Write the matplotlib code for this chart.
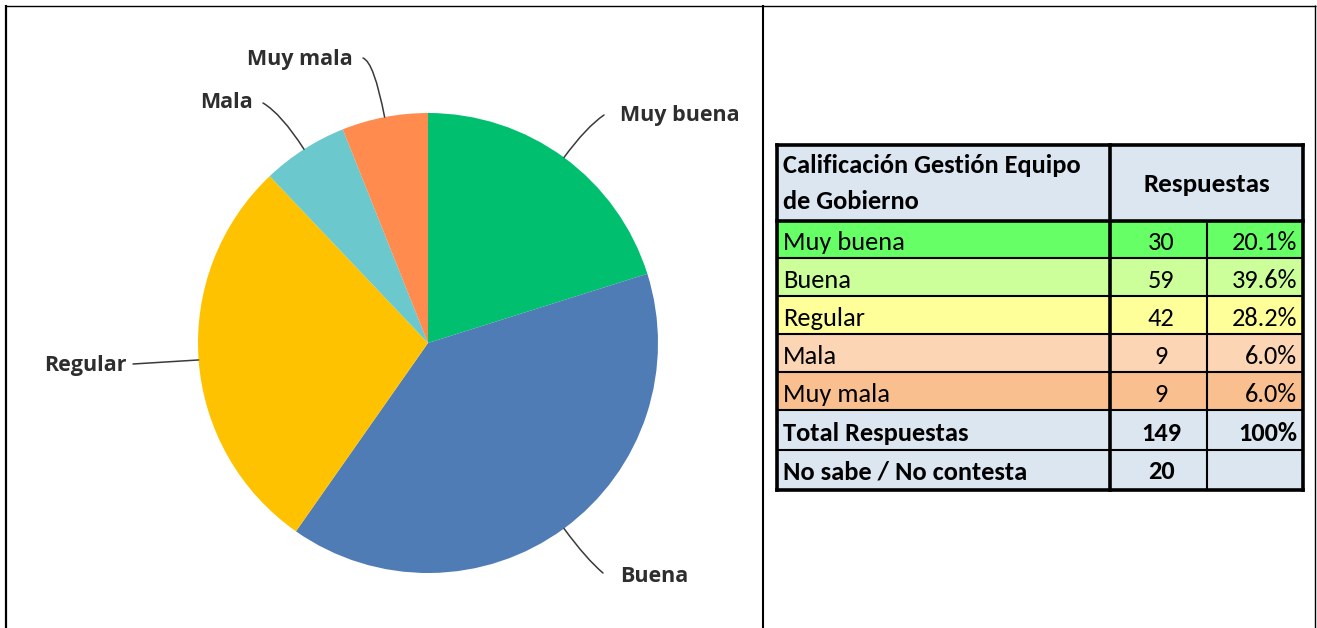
import matplotlib
matplotlib.use('Agg')
import matplotlib.pyplot as plt
from matplotlib.patches import Rectangle, PathPatch
from matplotlib.path import Path
from matplotlib import font_manager
import numpy as np

# ---------------- data ----------------
categories = ['Muy buena', 'Buena', 'Regular', 'Mala', 'Muy mala']
counts = [30, 59, 42, 9, 9]
percents = ['20.1%', '39.6%', '28.2%', '6.0%', '6.0%']
pie_colors = ['#00BF6F', '#507CB6', '#FFC200', '#6BC8CD', '#FF8B4F']
row_colors = ['#66FF66', '#CCFF99', '#FFFF99', '#FCD5B4', '#FABF8F']
header_title = ['Calificación Gestión Equipo', 'de Gobierno']
header_resp = 'Respuestas'
total_label = 'Total Respuestas'
total_count = '149'
total_pct = '100%'
nsnc_label = 'No sabe / No contesta'
nsnc_count = '20'

# ---------------- fonts ----------------
avail = {f.name for f in font_manager.fontManager.ttflist}
if 'Liberation Sans Narrow' in avail:
    table_font, tfs, tfs_b = 'Liberation Sans Narrow', 18.5, 18.5
elif 'Carlito' in avail:
    table_font, tfs, tfs_b = 'Carlito', 19, 19
else:
    table_font, tfs, tfs_b = 'Lato', 17, 16.5
label_font = 'Open Sans'

W, H = 1317, 628
fig = plt.figure(figsize=(W / 100, H / 100), dpi=100)
ax = fig.add_axes([0, 0, 1, 1])

# ---------------- pie ----------------
cx, cy, R = 428, 343, 230
ax.pie(counts, colors=pie_colors, startangle=-90, counterclock=True,
       center=(cx, cy), radius=R, wedgeprops=dict(linewidth=0))
ax.set_xlim(0, W)
ax.set_ylim(H, 0)
ax.set_aspect('auto')
ax.axis('off')

total = sum(counts)
cum = np.cumsum([0] + counts[:-1])
mid_deg = [-90 + 360 * (c + v / 2) / total for c, v in zip(cum, counts)]

# leader styling: (control radius, end point, text pos, ha)
leader_style = {
    'Muy buena': (268, (604, 115), (620, 115), 'left'),
    'Buena': (268, (603, 573), (620, 576), 'left'),
    'Regular': (None, (133, 364), (127, 365), 'right'),
    'Mala': (272, (263, 103), (253, 103), 'right'),
    'Muy mala': (286, (363, 58), (353, 60), 'right'),
}
for cat, th in zip(categories, mid_deg):
    t = np.deg2rad(th)
    sx, sy = cx + R * np.cos(t), cy + R * np.sin(t)
    cr, end, tpos, ha = leader_style[cat]
    if cr is None:
        verts = [(sx, sy), end]
        codes = [Path.MOVETO, Path.LINETO]
    else:
        ctrl = (cx + cr * np.cos(t), cy + cr * np.sin(t))
        verts = [(sx, sy), ctrl, end]
        codes = [Path.MOVETO, Path.CURVE3, Path.CURVE3]
    ax.add_patch(PathPatch(Path(verts, codes), fill=False, edgecolor='#3a3a3a',
                           linewidth=1.1, capstyle='round'))
    ax.text(tpos[0], tpos[1], cat, ha=ha, va='center', fontsize=15.5,
            fontweight='bold', family=label_font, color='#2e2e2e')

# ---------------- outer frame ----------------
ax.plot([6, 1315.5], [5.5, 5.5], color='black', lw=1.0, solid_capstyle='butt')
ax.plot([6, 6], [5, H], color='black', lw=1.6, solid_capstyle='butt')
ax.plot([763, 763], [5, H], color='black', lw=1.5, solid_capstyle='butt')
ax.plot([1315, 1315], [5, H], color='black', lw=1.0, solid_capstyle='butt')

# ---------------- table ----------------
xs = [777, 1110, 1207, 1303]
ys = [145, 221, 258, 296, 334, 372, 410, 450, 490]
hdr_bg = '#DCE6F1'

ax.add_patch(Rectangle((xs[0], ys[0]), xs[3] - xs[0], ys[1] - ys[0], facecolor=hdr_bg, edgecolor='none'))
for i, col in enumerate(row_colors):
    ax.add_patch(Rectangle((xs[0], ys[i + 1]), xs[3] - xs[0], ys[i + 2] - ys[i + 1], facecolor=col, edgecolor='none'))
for i in (6, 7):
    ax.add_patch(Rectangle((xs[0], ys[i]), xs[3] - xs[0], ys[i + 1] - ys[i], facecolor=hdr_bg, edgecolor='none'))

thick, thin = 2.6, 1.5
# horizontal lines
ax.plot([xs[0], xs[3]], [ys[0], ys[0]], color='black', lw=thick)
ax.plot([xs[0], xs[3]], [ys[1], ys[1]], color='black', lw=thick)
for yv in ys[2:-1]:
    ax.plot([xs[0], xs[3]], [yv, yv], color='black', lw=thin)
ax.plot([xs[0], xs[3]], [ys[-1], ys[-1]], color='black', lw=thick)
# vertical lines
ax.plot([xs[0], xs[0]], [ys[0], ys[-1]], color='black', lw=thick)
ax.plot([xs[1], xs[1]], [ys[0], ys[-1]], color='black', lw=thick)
ax.plot([xs[2], xs[2]], [ys[1], ys[-1]], color='black', lw=thin)
ax.plot([xs[3], xs[3]], [ys[0], ys[-1]], color='black', lw=thick)

tx = xs[0] + 6
ccx = 1161
px = 1297
ax.text(tx, 173, header_title[0], ha='left', va='baseline', fontsize=tfs_b, fontweight='bold', family=table_font)
ax.text(tx, 209, header_title[1], ha='left', va='baseline', fontsize=tfs_b, fontweight='bold', family=table_font)
ax.text((xs[1] + xs[3]) / 2, 192, header_resp, ha='center', va='baseline', fontsize=tfs_b + 0.5, fontweight='bold', family=table_font)

for i, (cat, n, p) in enumerate(zip(categories, counts, percents)):
    base = ys[i + 2] - 8
    ax.text(tx, base, cat, ha='left', va='baseline', fontsize=tfs, family=table_font)
    ax.text(ccx, base, str(n), ha='center', va='baseline', fontsize=tfs, family=table_font)
    ax.text(px, base, p, ha='right', va='baseline', fontsize=tfs, family=table_font)

base = ys[7] - 9
ax.text(tx, base, total_label, ha='left', va='baseline', fontsize=tfs_b, fontweight='bold', family=table_font)
ax.text(ccx, base, total_count, ha='center', va='baseline', fontsize=tfs_b, fontweight='bold', family=table_font)
ax.text(px, base, total_pct, ha='right', va='baseline', fontsize=tfs_b, fontweight='bold', family=table_font)
base = ys[8] - 11
ax.text(tx, base, nsnc_label, ha='left', va='baseline', fontsize=tfs_b, fontweight='bold', family=table_font)
ax.text(ccx, base, nsnc_count, ha='center', va='baseline', fontsize=tfs_b, fontweight='bold', family=table_font)

fig.savefig('out.png', dpi=100, facecolor='white')
